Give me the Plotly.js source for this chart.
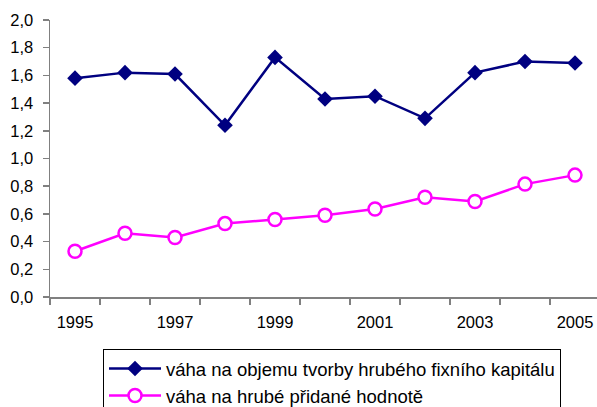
<!DOCTYPE html>
<html><head><meta charset="utf-8">
<script src="https://cdn.plot.ly/plotly-3.0.1.min.js"></script>
<style>body{margin:0;background:#fff}#c{width:597px;height:407px}</style>
</head><body><div id="c"></div>
<script>
var years = [1995,1996,1997,1998,1999,2000,2001,2002,2003,2004,2005];
var fixedCapital = [1.58,1.62,1.61,1.24,1.73,1.43,1.45,1.29,1.62,1.70,1.69];
var grossValueAdded = [0.33,0.46,0.43,0.53,0.56,0.59,0.635,0.72,0.69,0.815,0.88];
var seriesNames = ["váha na objemu tvorby hrubého fixního kapitálu","váha na hrubé přidané hodnotě"];
var xTickLabels = [1995,1997,1999,2001,2003,2005];
var boundaries = years.map(function(y){return y-0.5;}).concat([years[years.length-1]+0.5]);

var traces = [
 {x:years,y:fixedCapital,name:seriesNames[0],legendgroup:'a',type:'scatter',mode:'lines+markers',
  line:{color:'#000080',width:2.5},marker:{symbol:'diamond',size:12,color:'#000080'}},
 {x:years,y:grossValueAdded,name:seriesNames[1],legendgroup:'b',type:'scatter',mode:'lines+markers',
  line:{color:'#FF00FF',width:2.5},marker:{symbol:'circle',size:13,color:'#FFFFFF',line:{color:'#FF00FF',width:2.5}}}
];
var layout = {
 width:597,height:407,separators:', ',
 margin:{l:50,r:0,t:20,b:110,autoexpand:false},
 paper_bgcolor:'#fff',plot_bgcolor:'#fff',
 font:{family:'"Liberation Sans", Arial, sans-serif',size:16.5,color:'#000'},
 xaxis:{range:[1994.5,2005.44],tickvals:xTickLabels,ticktext:xTickLabels.map(String),
  ticks:'',showgrid:false,zeroline:false,showline:true,linecolor:'#808080',linewidth:1.5,
  ticklabelstandoff:10,
  minor:{tickvals:boundaries,ticks:'outside',ticklen:6,tickcolor:'#808080',tickwidth:1.5,showgrid:false}},
 yaxis:{range:[0,2],dtick:0.2,tickformat:'.1f',ticks:'outside',ticklen:6,tickcolor:'#808080',tickwidth:1.5,
  ticklabelstandoff:6,
  showgrid:false,zeroline:false,showline:true,linecolor:'#808080',linewidth:1.5},
 showlegend:true,
 legend:{x:0.0969,y:-0.1877,xanchor:'left',yanchor:'top',bordercolor:'#000',borderwidth:1,
  font:{size:18.5},bgcolor:'#fff',tracegroupgap:4,traceorder:'normal',itemwidth:52}
};
Plotly.newPlot('c',traces,layout,{displayModeBar:false,staticPlot:true});
</script></body></html>
